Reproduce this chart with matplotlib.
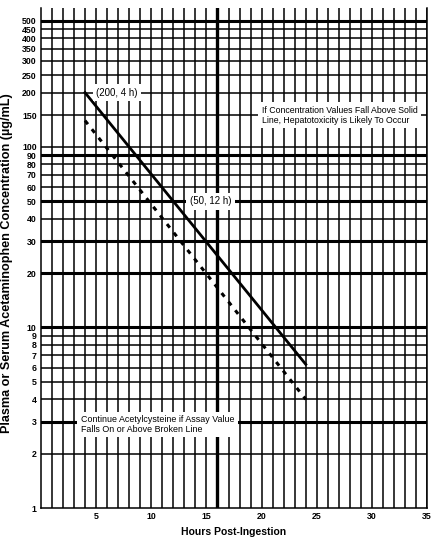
import matplotlib
matplotlib.use("Agg")
import matplotlib.pyplot as plt
from matplotlib import font_manager

# data
solid_hours = [4, 24]
solid_conc = [200, 6.25]
dashed_hours = [4, 24]
dashed_conc = [140, 4]

y_grid = [2, 3, 4, 5, 6, 7, 8, 9, 10, 20, 30, 40, 50, 60, 70, 80, 90, 100,
          150, 200, 250, 300, 350, 400, 450, 500]
y_thick = [500, 90, 50, 30, 20, 10, 3]
y_ticks = [1, 2, 3, 4, 5, 6, 7, 8, 9, 10, 20, 30, 40, 50, 60, 70, 80, 90, 100,
           150, 200, 250, 300, 350, 400, 450, 500]
x_grid = list(range(1, 36))
x_thick = [16]
x_ticks = [5, 10, 15, 20, 25, 30, 35]

names = {f.name for f in font_manager.fontManager.ttflist}
fam = ['Liberation Sans Narrow', 'DejaVu Sans'] if 'Liberation Sans Narrow' in names else ['Liberation Sans', 'DejaVu Sans']
plt.rcParams['font.family'] = fam

fig = plt.figure(figsize=(4.35, 5.39), dpi=100)
ax = fig.add_axes([0.094, 0.0575, 0.888, 0.928])
ax.set_yscale('log')
ax.set_xlim(0, 35)
ax.set_ylim(1, 590)

for y in y_grid:
    ax.axhline(y, color='black', lw=2.2 if y in y_thick else 1.1, zorder=1)
for x in x_grid:
    ax.axvline(x, color='black', lw=2.4 if x in x_thick else 1.1, zorder=1)

ax.plot(solid_hours, solid_conc, color='black', lw=2.0, zorder=3)
ax.plot(dashed_hours, dashed_conc, color='black', lw=2.2,
        linestyle=(0, (1.5, 2.1)), zorder=3)

box = dict(facecolor='white', edgecolor='none', pad=2.5)
ax.text(5.0, 200, '(200, 4 h)', fontsize=7, va='center', ha='left', bbox=box, zorder=5)
ax.text(13.5, 50, '(50, 12 h)', fontsize=7, va='center', ha='left', bbox=box, zorder=5)
ax.text(20.0, 150, 'If Concentration Values Fall Above Solid\nLine, Hepatotoxicity is Likely To Occur',
        fontsize=6.3, va='center', ha='left', multialignment='left', linespacing=1.1,
        bbox=box, zorder=5)
ax.text(3.6, 2.9, 'Continue Acetylcysteine if Assay Value\nFalls On or Above Broken Line',
        fontsize=6.4, va='center', ha='left', linespacing=1.1, bbox=box, zorder=5)

ax.set_yticks(y_ticks)
ax.set_yticklabels([str(v) for v in y_ticks], fontsize=6.3, fontweight='bold')
ax.yaxis.set_minor_locator(matplotlib.ticker.NullLocator())
ax.set_xticks(x_ticks)
ax.set_xticklabels([str(v) for v in x_ticks], fontsize=6.3, fontweight='bold')
ax.tick_params(length=0, pad=3)

ax.spines['top'].set_visible(False)
for s in ['left', 'bottom', 'right']:
    ax.spines[s].set_linewidth(1.1)

ax.set_xlabel('Hours Post-Ingestion', fontsize=7.5, fontweight='bold', labelpad=4)
ax.set_ylabel('Plasma or Serum Acetaminophen Concentration (\u00b5g/mL)',
              fontsize=9.1, fontweight='bold')
ax.yaxis.set_label_coords(-0.072, 0.49)

fig.savefig('out.png', dpi=100)
